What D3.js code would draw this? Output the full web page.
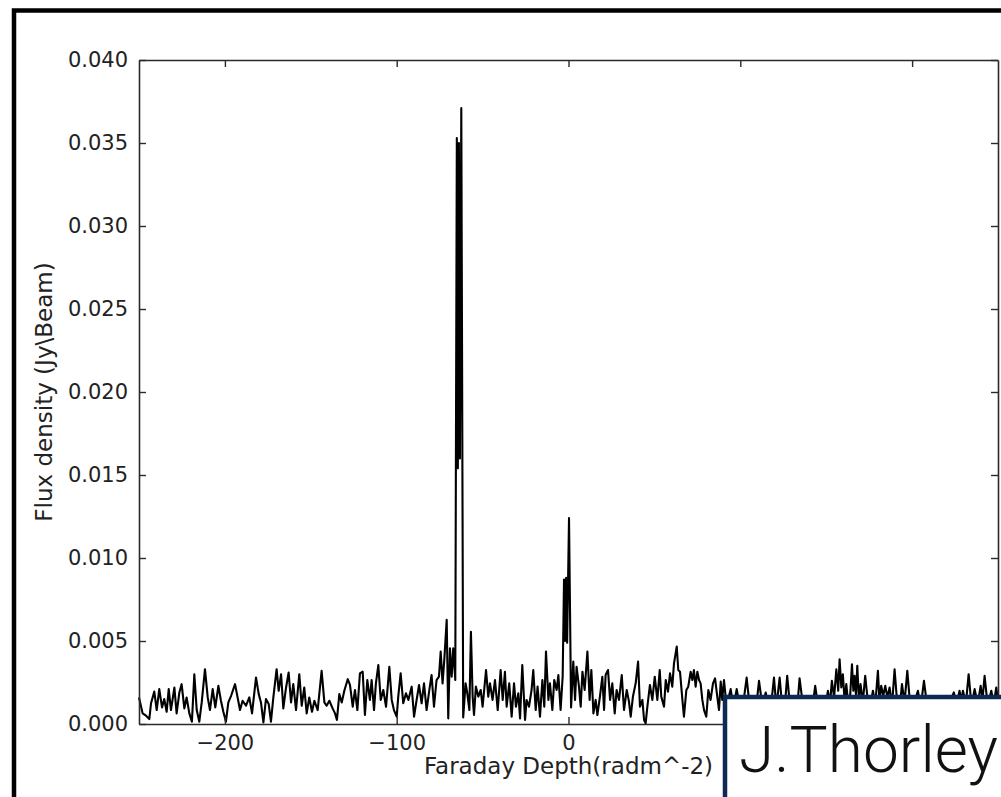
<!DOCTYPE html>
<html>
<head>
<meta charset="utf-8">
<script src="https://cdn.jsdelivr.net/npm/d3@7"></script>
<style>
  html, body { margin: 0; padding: 0; background: #fff; overflow: hidden; }
  svg { display: block; }
</style>
</head>
<body>
<svg id="chart" width="1001" height="797"></svg>
<script>
// Faraday depth spectrum: [depth (rad m^-2), flux density (Jy/beam)]
const westNoise = [
  [-250,0.0016],[-247.9,0.00064],[-245.9,0.0005],[-244.0,0.0003],[-243.0,0.00125],[-241.1,0.00195],
  [-239.7,0.00084],[-238.2,0.0021],[-236.6,0.001],[-235.3,0.0015],[-233.9,0.00074],[-232.7,0.0021],
  [-231.4,0.00084],[-229.4,0.0022],[-228.1,0.00064],[-226.5,0.0019],[-225.2,0.0024],[-223.6,0.00094],
  [-222.3,0.0016],[-220.7,0.00064],[-219.2,0.00014],[-217.8,0.0030],[-216.4,0.00084],[-214.9,0.00014],
  [-213.5,0.0013],[-211.6,0.0033],[-210.0,0.0016],[-208.7,0.00084],[-207.1,0.0021],[-205.6,0.001],
  [-203.8,0.0023],[-202.3,0.0014],[-200.9,0.00074],[-199.4,0.00014],[-198.0,0.0013],[-196.4,0.0017],
  [-194.1,0.0024],[-192.6,0.0016],[-191.2,0.00084],[-189.7,0.0014],[-187.7,0.0011],[-185.8,0.0016],
  [-184.2,0.00064],[-181.9,0.0028],[-180.3,0.0018],[-179.0,0.0013],[-177.6,0.0001],[-176.1,0.0015],
  [-174.5,0.0012],[-173.2,0.00014],[-171.8,0.0016],[-169.9,0.0033],[-168.7,0.002],[-167.3,0.0030],
  [-166.0,0.00094],[-164.4,0.0022],[-162.9,0.0031],[-161.5,0.0013],[-160.2,0.0024],[-158.6,0.00084],
  [-156.7,0.003],[-155.3,0.0011],[-153.8,0.0022],[-152.4,0.00064],[-150.9,0.0016],[-149.3,0.00074],
  [-147.9,0.0014],[-146.0,0.00084],[-143.7,0.0032],[-142.1,0.0013],[-140.8,0.0011],[-139.2,0.0014],
  [-137.3,0.00094],[-135.9,0.00064],[-134.8,0.00024],[-133.4,0.0018],[-132.0,0.0013],[-130.5,0.002],
  [-128.5,0.0027],[-127.2,0.00235],[-125.6,0.00104],[-124.3,0.00205],[-122.9,0.00084],[-121.4,0.00305],
  [-119.8,0.00315],[-118.5,0.00054],[-117.1,0.00265],[-115.6,0.00145],[-114.6,0.00265],[-113.2,0.00084],
  [-112.1,0.00245],[-110.7,0.00355],[-109.3,0.00145],[-107.8,0.00205],[-106.2,0.00104],[-104.3,0.00345],
  [-102.9,0.00145],[-101.6,0.00084],[-100.0,0.00044],[-99.1,0.00165],[-97.7,0.00305],[-96.2,0.00125],
  [-94.6,0.00185],[-93.2,0.00145],[-91.3,0.00225],[-89.9,0.00044],[-88.4,0.00145],[-87.0,0.00235],
  [-85.5,0.00125],[-84.1,0.00245],[-82.6,0.00084],[-81.0,0.00205],[-79.7,0.00295],[-78.3,0.00104],
  [-76.8,0.00265],[-75.4,0.00285],[-74.4,0.00436],[-73.3,0.00245],[-72.3,0.00386],[-70.9,0.00627],
  [-70.0,0.00034],[-69.0,0.00456],[-68.0,0.00285],[-67.1,0.00456],[-65.9,0.00265]
];

// Bright component near -64 rad m^-2
const peakWest = [
  [-65.0,0.0353],[-64.4,0.0154],[-63.8,0.0350],[-63.2,0.0160],[-62.4,0.0371],[-61.3,0.0004]
];

const midNoise = [
  [-59.9,0.00245],[-58.9,0.00185],[-57.7,0.00084],[-56.8,0.00556],[-55.8,0.00165],[-55.0,0.00054],
  [-53.9,0.00225],[-52.5,0.00165],[-51.1,0.00205],[-50.0,0.00104],[-48.0,0.00325],[-46.7,0.00165],
  [-45.7,0.00245],[-44.2,0.00145],[-42.8,0.00265],[-41.2,0.00084],[-39.5,0.00325],[-38.3,0.00145],
  [-37.0,0.00315],[-36.0,0.00104],[-34.5,0.00245],[-33.1,0.00044],[-31.7,0.00245],[-30.6,0.00104],
  [-29.2,0.00185],[-28.2,0.00034],[-26.9,0.00355],[-25.3,0.00024],[-24.4,0.00145],[-23.0,0.00104],
  [-21.5,0.00205],[-20.5,0.00325],[-19.1,0.00084],[-18.0,0.00225],[-16.6,0.00044],[-15.2,0.00265],
  [-14.1,0.00104],[-13.1,0.00436],[-11.7,0.00145],[-10.8,0.00245],[-9.4,0.00084],[-8.3,0.00265],
  [-6.9,0.00205],[-5.9,0.00295],[-4.6,0.00084],[-3.4,0.00285]
];

// Fainter component near 0 rad m^-2
const peakCentre = [
  [-2.6,0.0087],[-2.0,0.0050],[-1.4,0.0088],[-0.8,0.0049],[0.3,0.0124],[1.5,0.0010]
];

const eastNoise = [
  [2.8,0.00376],[3.8,0.00145],[4.7,0.00345],[6.1,0.00225],[7.1,0.00104],[8.1,0.00315],
  [9.4,0.00205],[11.0,0.00436],[12.3,0.00145],[13.3,0.00325],[14.5,0.00064],[15.8,0.00145],
  [16.8,0.00054],[18.3,0.00165],[19.7,0.00285],[20.7,0.00084],[21.6,0.00295],[23.0,0.00325],
  [24.2,0.00145],[25.5,0.00245],[26.9,0.00064],[28.0,0.00205],[29.4,0.00145],[31.0,0.00295],
  [32.3,0.00084],[33.9,0.00205],[35.2,0.00135],[36.2,0.00044],[37.5,0.00165],[39.1,0.00245],
  [40.5,0.00376],[41.6,0.00104],[43.0,0.00145],[44.0,0.00024],[44.9,0.00004],[45.9,0.00104],
  [47.4,0.00235],[48.8,0.00145],[50.2,0.00285],[51.7,0.00145],[53.1,0.00325],[54.0,0.00165],
  [55.6,0.00104],[56.6,0.00265],[57.9,0.00195],[59.1,0.00305],[60.4,0.00225],[61.4,0.00365],
  [63.0,0.00466],[63.9,0.00325],[64.9,0.00315],[66.3,0.00145],[67.2,0.00044],[68.6,0.00205],
  [69.7,0.00225],[71.1,0.00315],[72.1,0.00265],[73.0,0.00325],[74.0,0.00225],[75.0,0.00315],
  [76.0,0.00265],[76.9,0.00245],[77.9,0.00145],[78.9,0.00084],[80.2,0.00044],[81.4,0.00205],
  [82.7,0.00145],[84.1,0.00245],[85.3,0.00275],[86.6,0.00165],[87.6,0.00084],[88.6,0.00255],
  [89.5,0.00145],[90.5,0.00265],[92.0,0.0011],[94.4,0.0021],[96.0,0.0010],[97.9,0.0021],
  [100.0,0.0009],[101.8,0.0013],[103.7,0.0028],[105.5,0.0010],[107.5,0.0012],[109.0,0.0008],
  [110.9,0.0026],[112.8,0.0011],[114.8,0.0019],[116.5,0.0009],[118.0,0.0012],[119.6,0.0028],
  [121.0,0.0010],[122.9,0.0028],[124.5,0.0009],[126.0,0.0012],[127.3,0.0029],[129.0,0.0010],
  [131.0,0.0013],[133.0,0.0008],[134.5,0.00275],[136.5,0.0011],[138.5,0.0009],[140.5,0.0013],
  [142.0,0.0010],[143.6,0.0023],[145.5,0.0009],[147.5,0.0012],[149.5,0.0010],[151.0,0.0020],
  [152.2,0.0012],[153.3,0.0026],[154.6,0.0016],[155.9,0.0033],[157.0,0.0020],[157.8,0.0039],
  [158.8,0.0022],[159.7,0.0030],[160.7,0.0014],[161.7,0.0024],[163.0,0.0010],[164.0,0.0018],
  [165.0,0.0036],[165.8,0.0020],[166.5,0.0029],[167.3,0.0018],[168.1,0.0035],[169.0,0.0015],
  [170.0,0.0024],[171.3,0.0013],[172.7,0.0029],[174.5,0.0011],[176.0,0.0013],[177.2,0.0020],
  [178.6,0.0012],[180.1,0.0032],[181.0,0.0014],[182.0,0.0023],[183.2,0.0017],[184.4,0.0023],
  [185.6,0.0016],[186.9,0.0022],[188.3,0.0011],[189.8,0.0033],[191.5,0.0010],[193.0,0.0012],
  [194.1,0.0024],[195.6,0.0013],[197.2,0.0032],[199.0,0.0010],[201.0,0.0012],[203.4,0.0020],
  [205.0,0.0010],[206.9,0.0026],[209.0,0.0009],[211.5,0.0012],[214.0,0.0008],[216.5,0.0011],
  [219.0,0.0009],[221.5,0.0012],[224.3,0.0019],[226.0,0.0012],[227.6,0.0020],[228.6,0.0014],
  [229.6,0.0020],[231.3,0.0012],[232.9,0.0030],[234.6,0.0011],[236.4,0.0021],[238.2,0.0012],
  [239.9,0.0023],[241.0,0.0015],[242.2,0.0029],[244.0,0.0011],[246.1,0.0020],[247.5,0.0012],
  [249.0,0.0022],[250.0,0.0014]
];

const xDomain = [-250, 250];
const yDomain = [0, 0.04];
const xTicks = [-200, -100, 0, 100, 200];
// labels of the 100 and 200 ticks sit under the credit box and are left blank
const xTickLabels = ["\u2212200", "\u2212100", "0", "", ""];
const yTicks = [0, 0.005, 0.01, 0.015, 0.02, 0.025, 0.03, 0.035, 0.04];
const xTitle = "Faraday Depth(radm^-2)";
const yTitle = "Flux density (Jy\\Beam)";
const credit = "J.Thorley";

const spectrum = [].concat(westNoise, peakWest, midNoise, peakCentre, eastNoise);

const W = 1001, H = 797;
const margin = { top: 60, right: 3, bottom: 73, left: 139 };
const plotW = W - margin.left - margin.right;
const plotH = H - margin.top - margin.bottom;

const svg = d3.select("#chart");
const axisFont = "'DejaVu Sans', Verdana, sans-serif";
const axisColor = "#2a2a2a";

const x = d3.scaleLinear().domain(xDomain).range([0, plotW]);
const y = d3.scaleLinear().domain(yDomain).range([plotH, 0]);

const g = svg.append("g").attr("transform", `translate(${margin.left},${margin.top})`);

// spectrum trace
const line = d3.line().x(d => x(d[0])).y(d => y(d[1]));
g.append("path")
  .datum(spectrum)
  .attr("fill", "none")
  .attr("stroke", "#000")
  .attr("stroke-width", 2.1)
  .attr("stroke-linejoin", "round")
  .attr("d", line);

// axes with inward ticks on all four sides
function styleAxis(sel, fontSize) {
  sel.selectAll(".domain").attr("stroke", axisColor).attr("stroke-width", 1.6);
  sel.selectAll(".tick line").attr("stroke", axisColor).attr("stroke-width", 1.4);
  sel.selectAll("text")
    .attr("fill", "#222")
    .attr("font-family", axisFont)
    .attr("font-size", fontSize);
}

const fmtY = d3.format(".3f");

g.append("g")
  .attr("transform", `translate(0,${plotH})`)
  .call(d3.axisBottom(x).tickValues(xTicks).tickFormat((d, i) => xTickLabels[i])
    .tickSizeInner(-7).tickSizeOuter(0).tickPadding(11))
  .call(s => styleAxis(s, 21));

g.append("g")
  .call(d3.axisLeft(y).tickValues(yTicks).tickFormat(fmtY).tickSizeInner(-7).tickSizeOuter(0).tickPadding(11))
  .call(s => styleAxis(s, 21));

g.append("g")
  .call(d3.axisTop(x).tickValues(xTicks).tickFormat("").tickSizeInner(-7).tickSizeOuter(0))
  .call(s => styleAxis(s, 21));

g.append("g")
  .attr("transform", `translate(${plotW},0)`)
  .call(d3.axisRight(y).tickValues(yTicks).tickFormat("").tickSizeInner(-7).tickSizeOuter(0))
  .call(s => styleAxis(s, 21));

// axis titles
svg.append("text")
  .attr("x", margin.left + x(0))
  .attr("y", 774)
  .attr("text-anchor", "middle")
  .attr("font-family", axisFont)
  .attr("font-size", 23)
  .attr("fill", "#222")
  .text(xTitle);

svg.append("text")
  .attr("transform", `translate(52,${margin.top + plotH / 2}) rotate(-90)`)
  .attr("text-anchor", "middle")
  .attr("font-family", axisFont)
  .attr("font-size", 23)
  .attr("fill", "#222")
  .text(yTitle);

// outer frame
svg.append("rect")
  .attr("x", 14).attr("y", 10.5)
  .attr("width", 1100).attr("height", 900)
  .attr("fill", "none")
  .attr("stroke", "#000")
  .attr("stroke-width", 4.5);

// credit box
svg.append("rect")
  .attr("x", 725).attr("y", 697)
  .attr("width", 400).attr("height", 200)
  .attr("fill", "#fff")
  .attr("stroke", "#0d2a55")
  .attr("stroke-width", 4.5);

svg.append("text")
  .attr("x", 739).attr("y", 772)
  .attr("font-family", "Roboto, 'Open Sans', sans-serif")
  .attr("font-weight", 300)
  .attr("font-size", 64)
  .attr("fill", "#111")
  .text(credit);
</script>
</body>
</html>
